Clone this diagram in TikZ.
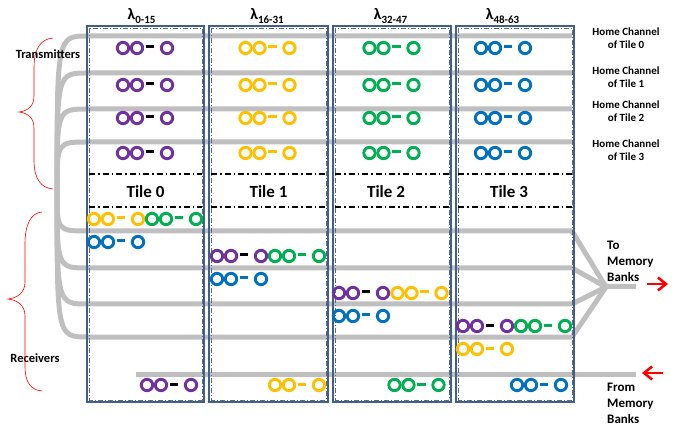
\documentclass[tikz,border=0pt]{standalone}
\usepackage{fontspec}
\setmainfont{Carlito}
\usetikzlibrary{arrows.meta}
\definecolor{wg}{RGB}{191,191,191}
\definecolor{rpurple}{RGB}{112,48,160}
\definecolor{ryellow}{RGB}{255,192,0}
\definecolor{rgreen}{RGB}{0,176,80}
\definecolor{rblue}{RGB}{0,112,192}
\definecolor{boxblue}{RGB}{65,95,140}
\newcommand\ringgrp[4]{%
  \draw[ringline,#3] (#1,#2) circle[radius=5.7];
  \draw[ringline,#3] ({#1+14},#2) circle[radius=5.7];
  \draw[dashline,#4] ({#1+22.5},{#2-1}) -- ({#1+31},{#2-1});
  \draw[ringline,#3] ({#1+44},#2) circle[radius=5.7];
}
\tikzset{
  wgline/.style={draw=wg,line width=5pt,line join=round},
  ringline/.style={line width=2.9pt},
  dashline/.style={line width=3pt},
  boxline/.style={draw=boxblue,line width=1.4pt},
  boxinner/.style={draw=boxblue!60!gray,line width=0.6pt,dash pattern=on 5pt off 2pt on 1pt off 2pt},
  tiledash/.style={draw=black,line width=1.5pt,dash pattern=on 6pt off 3pt on 1.5pt off 3pt},
  brace/.style={draw=red,line width=0.6pt},
  redarrow/.style={draw=red,line width=2.6pt,-{Straight Barb[length=8pt,width=13pt]}},
  lam/.style={font=\bfseries\fontsize{16}{16}\selectfont,inner sep=0pt},
  tilelbl/.style={font=\bfseries\fontsize{17}{17}\selectfont,inner sep=0pt},
  homelbl/.style={font=\bfseries\fontsize{11}{12.5}\selectfont,align=center,inner sep=0pt},
  sidelbl/.style={font=\bfseries\fontsize{12.5}{14}\selectfont,inner sep=0pt},
  memlbl/.style={font=\bfseries\fontsize{13}{16}\selectfont,align=left,anchor=west,inner sep=0pt},
}
\newcommand\lamsub[1]{\raisebox{-0.45ex}{\fontsize{11}{11}\selectfont #1}}
\begin{document}
\begin{tikzpicture}[x=1pt,y=-1pt]
\useasboundingbox (0,0) rectangle (674,427);
\coordinate (trunk) at (57,190);
\coordinate (conv) at (606,287);
\coordinate (out) at (636,287);
% transmitter waveguides
\foreach \yl in {36,73,109,142}{
  \draw[wgline] (trunk) .. controls (57,\yl) .. (88,\yl) -- (572,\yl);
}
% receiver waveguides
\foreach \yl in {231,268,304,337}{
  \draw[wgline] (trunk) .. controls (57,\yl) .. (88,\yl) -- (572,\yl) -- (conv);
}
\draw[wgline] (conv) -- (out);
\coordinate (fmA) at (136,374);
\coordinate (fmB) at (636,374);
\draw[wgline] (fmA) -- (fmB);
% tile boxes
\foreach \l/\r in {87/204,209/328,333/451,456/574}{
  \draw[boxline] (\l,26) rectangle (\r,402);
  \draw[boxinner] ({\l+2.2},28.2) rectangle ({\r-2.2},399.8);
  \draw[tiledash] ({\l+2},174) -- ({\r-2},174);
  \draw[tiledash] ({\l+2},207) -- ({\r-2},207);
}
% transmitter rings
\foreach \y in {48,85,118,153}{
  \ringgrp{123}{\y}{rpurple}{black}
  \ringgrp{245.5}{\y}{ryellow}{ryellow}
  \ringgrp{369.5}{\y}{rgreen}{rgreen}
  \ringgrp{481}{\y}{rblue}{rblue}
}
% receiver rings
\ringgrp{94}{219}{ryellow}{ryellow}
\ringgrp{152}{219}{rgreen}{rgreen}
\ringgrp{94}{242}{rblue}{rblue}
\ringgrp{217}{256}{rpurple}{black}
\ringgrp{275}{256}{rgreen}{rgreen}
\ringgrp{217}{279}{rblue}{rblue}
\ringgrp{339}{293}{rpurple}{black}
\ringgrp{397.5}{293}{ryellow}{ryellow}
\ringgrp{339}{316}{rblue}{rblue}
\ringgrp{463}{326}{rpurple}{black}
\ringgrp{521}{326}{rgreen}{rgreen}
\ringgrp{463}{349}{ryellow}{ryellow}
\ringgrp{147}{385}{rpurple}{black}
\ringgrp{275}{385}{ryellow}{ryellow}
\ringgrp{394.5}{385}{rgreen}{rgreen}
\ringgrp{517}{385}{rblue}{rblue}
% lambda labels
\node[lam] (lam0) at (141.5,16) {λ\lamsub{0-15}};
\node[lam] (lam1) at (267,16) {λ\lamsub{16-31}};
\node[lam] (lam2) at (390.5,16) {λ\lamsub{32-47}};
\node[lam] (lam3) at (502.5,16) {λ\lamsub{48-63}};
% tile labels
\node[tilelbl] (t0) at (145.5,192) {Tile 0};
\node[tilelbl] (t1) at (268.5,192) {Tile 1};
\node[tilelbl] (t2) at (386,192) {Tile 2};
\node[tilelbl] (t3) at (509,192) {Tile 3};
% home channel labels
\node[homelbl] (h0) at (626,38) {Home Channel\\of Tile 0};
\node[homelbl] (h1) at (626,77) {Home Channel\\of Tile 1};
\node[homelbl] (h2) at (626,111) {Home Channel\\of Tile 2};
\node[homelbl] (h3) at (626,150) {Home Channel\\of Tile 3};
% side labels
\node[sidelbl] (tx) at (48,54) {Transmitters};
\node[sidelbl] (rx) at (35,358) {Receivers};
% memory labels
\node[memlbl] (tomem) at (607,261) {To\\Memory\\Banks};
\node[memlbl] (frommem) at (607,403) {From\\Memory\\Banks};
% red arrows
\coordinate (a1s) at (647,284);
\coordinate (a1e) at (668,284);
\coordinate (a2s) at (663,373);
\coordinate (a2e) at (642,373);
\draw[redarrow] (a1s) -- (a1e);
\draw[redarrow] (a2s) -- (a2e);
% braces
\draw[brace] (53,38) .. controls (41,39) and (34,48) .. (34,68) -- (34,96)
  .. controls (34,106) and (28,111) .. (19,112)
  .. controls (28,113) and (34,118) .. (34,128) -- (34,160)
  .. controls (34,179) and (41,188) .. (53,189);
\draw[brace] (42,212) .. controls (31,213) and (25,224) .. (25,244) -- (25,282)
  .. controls (25,293) and (17,298) .. (8,299)
  .. controls (17,300) and (25,305) .. (25,316) -- (25,366)
  .. controls (25,383) and (31,390) .. (42,391);
\end{tikzpicture}
\end{document}
